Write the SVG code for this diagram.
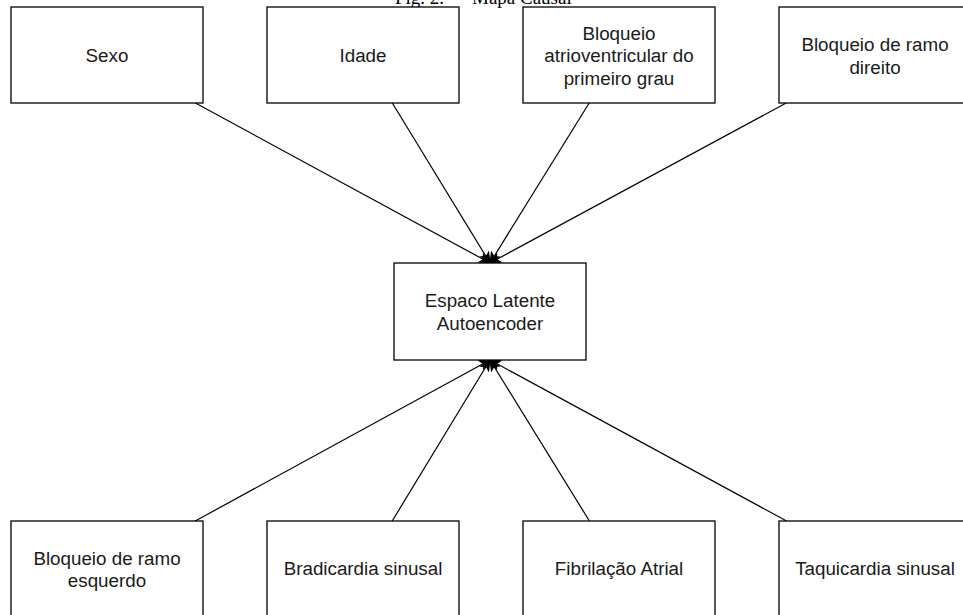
<svg xmlns="http://www.w3.org/2000/svg" width="963" height="615" viewBox="0 0 963 615">
<style>
.box{fill:#fff;stroke:#000;stroke-width:1.3}
.lbl{font-family:"Liberation Sans",Arial,Helvetica,sans-serif;font-size:18.8px;fill:#1a1a1a;text-anchor:middle}
.edge{stroke:#000;stroke-width:1.2;fill:none;marker-end:url(#arr)}
.cap{font-family:"Liberation Serif","Times New Roman",serif;font-size:19px;fill:#000}
</style>
<defs>
<marker id="arr" markerUnits="userSpaceOnUse" markerWidth="14" markerHeight="12" viewBox="-11 -6 12 12" refX="0" refY="0" orient="auto" overflow="visible">
<path d="M0,0 L-10,-4.5 L-7.5,0 L-10,4.5 Z" fill="#000" stroke="#000" stroke-width="1"/>
</marker>
</defs>
<rect width="963" height="615" fill="#fff"/>
<text class="cap" x="395" y="4">Fig. 2.<tspan x="472">Mapa Causal</tspan></text>

<g id="connectors">
<line class="edge" x1="195.4" y1="103" x2="490" y2="263"/>
<line class="edge" x1="392.3" y1="103" x2="490" y2="263"/>
<line class="edge" x1="589.2" y1="103" x2="490" y2="263"/>
<line class="edge" x1="786.2" y1="103" x2="490" y2="263"/>
<line class="edge" x1="195.2" y1="521" x2="490" y2="360"/>
<line class="edge" x1="392.2" y1="521" x2="490" y2="360"/>
<line class="edge" x1="589.4" y1="521" x2="490" y2="360"/>
<line class="edge" x1="786.6" y1="521" x2="490" y2="360"/>
</g>

<g id="sexo"><rect class="box" x="11" y="7" width="192" height="96"/><text class="lbl" x="107" y="62">Sexo</text></g>
<g id="idade"><rect class="box" x="267" y="7" width="192" height="96"/><text class="lbl" x="363" y="62">Idade</text></g>
<g id="bloqueio-av"><rect class="box" x="523" y="7" width="192" height="96"/><text class="lbl" x="619" y="39.5">Bloqueio</text><text class="lbl" x="619" y="62">atrioventricular do</text><text class="lbl" x="619" y="84.5">primeiro grau</text></g>
<g id="bloqueio-direito"><rect class="box" x="779" y="7" width="192" height="96"/><text class="lbl" x="875" y="51">Bloqueio de ramo</text><text class="lbl" x="875" y="73.5">direito</text></g>

<g id="espaco-latente"><rect class="box" x="394" y="263" width="192" height="97"/><text class="lbl" x="490" y="306.5">Espaco Latente</text><text class="lbl" x="490" y="329.5">Autoencoder</text></g>

<g id="bloqueio-esquerdo"><rect class="box" x="11" y="521" width="192" height="96"/><text class="lbl" x="107" y="564.5">Bloqueio de ramo</text><text class="lbl" x="107" y="586.5">esquerdo</text></g>
<g id="bradicardia"><rect class="box" x="267" y="521" width="192" height="96"/><text class="lbl" x="363" y="574.5">Bradicardia sinusal</text></g>
<g id="fibrilacao"><rect class="box" x="523" y="521" width="192" height="96"/><text class="lbl" x="619" y="574.5">Fibrilação Atrial</text></g>
<g id="taquicardia"><rect class="box" x="779" y="521" width="192" height="96"/><text class="lbl" x="875" y="574.5">Taquicardia sinusal</text></g>
</svg>
